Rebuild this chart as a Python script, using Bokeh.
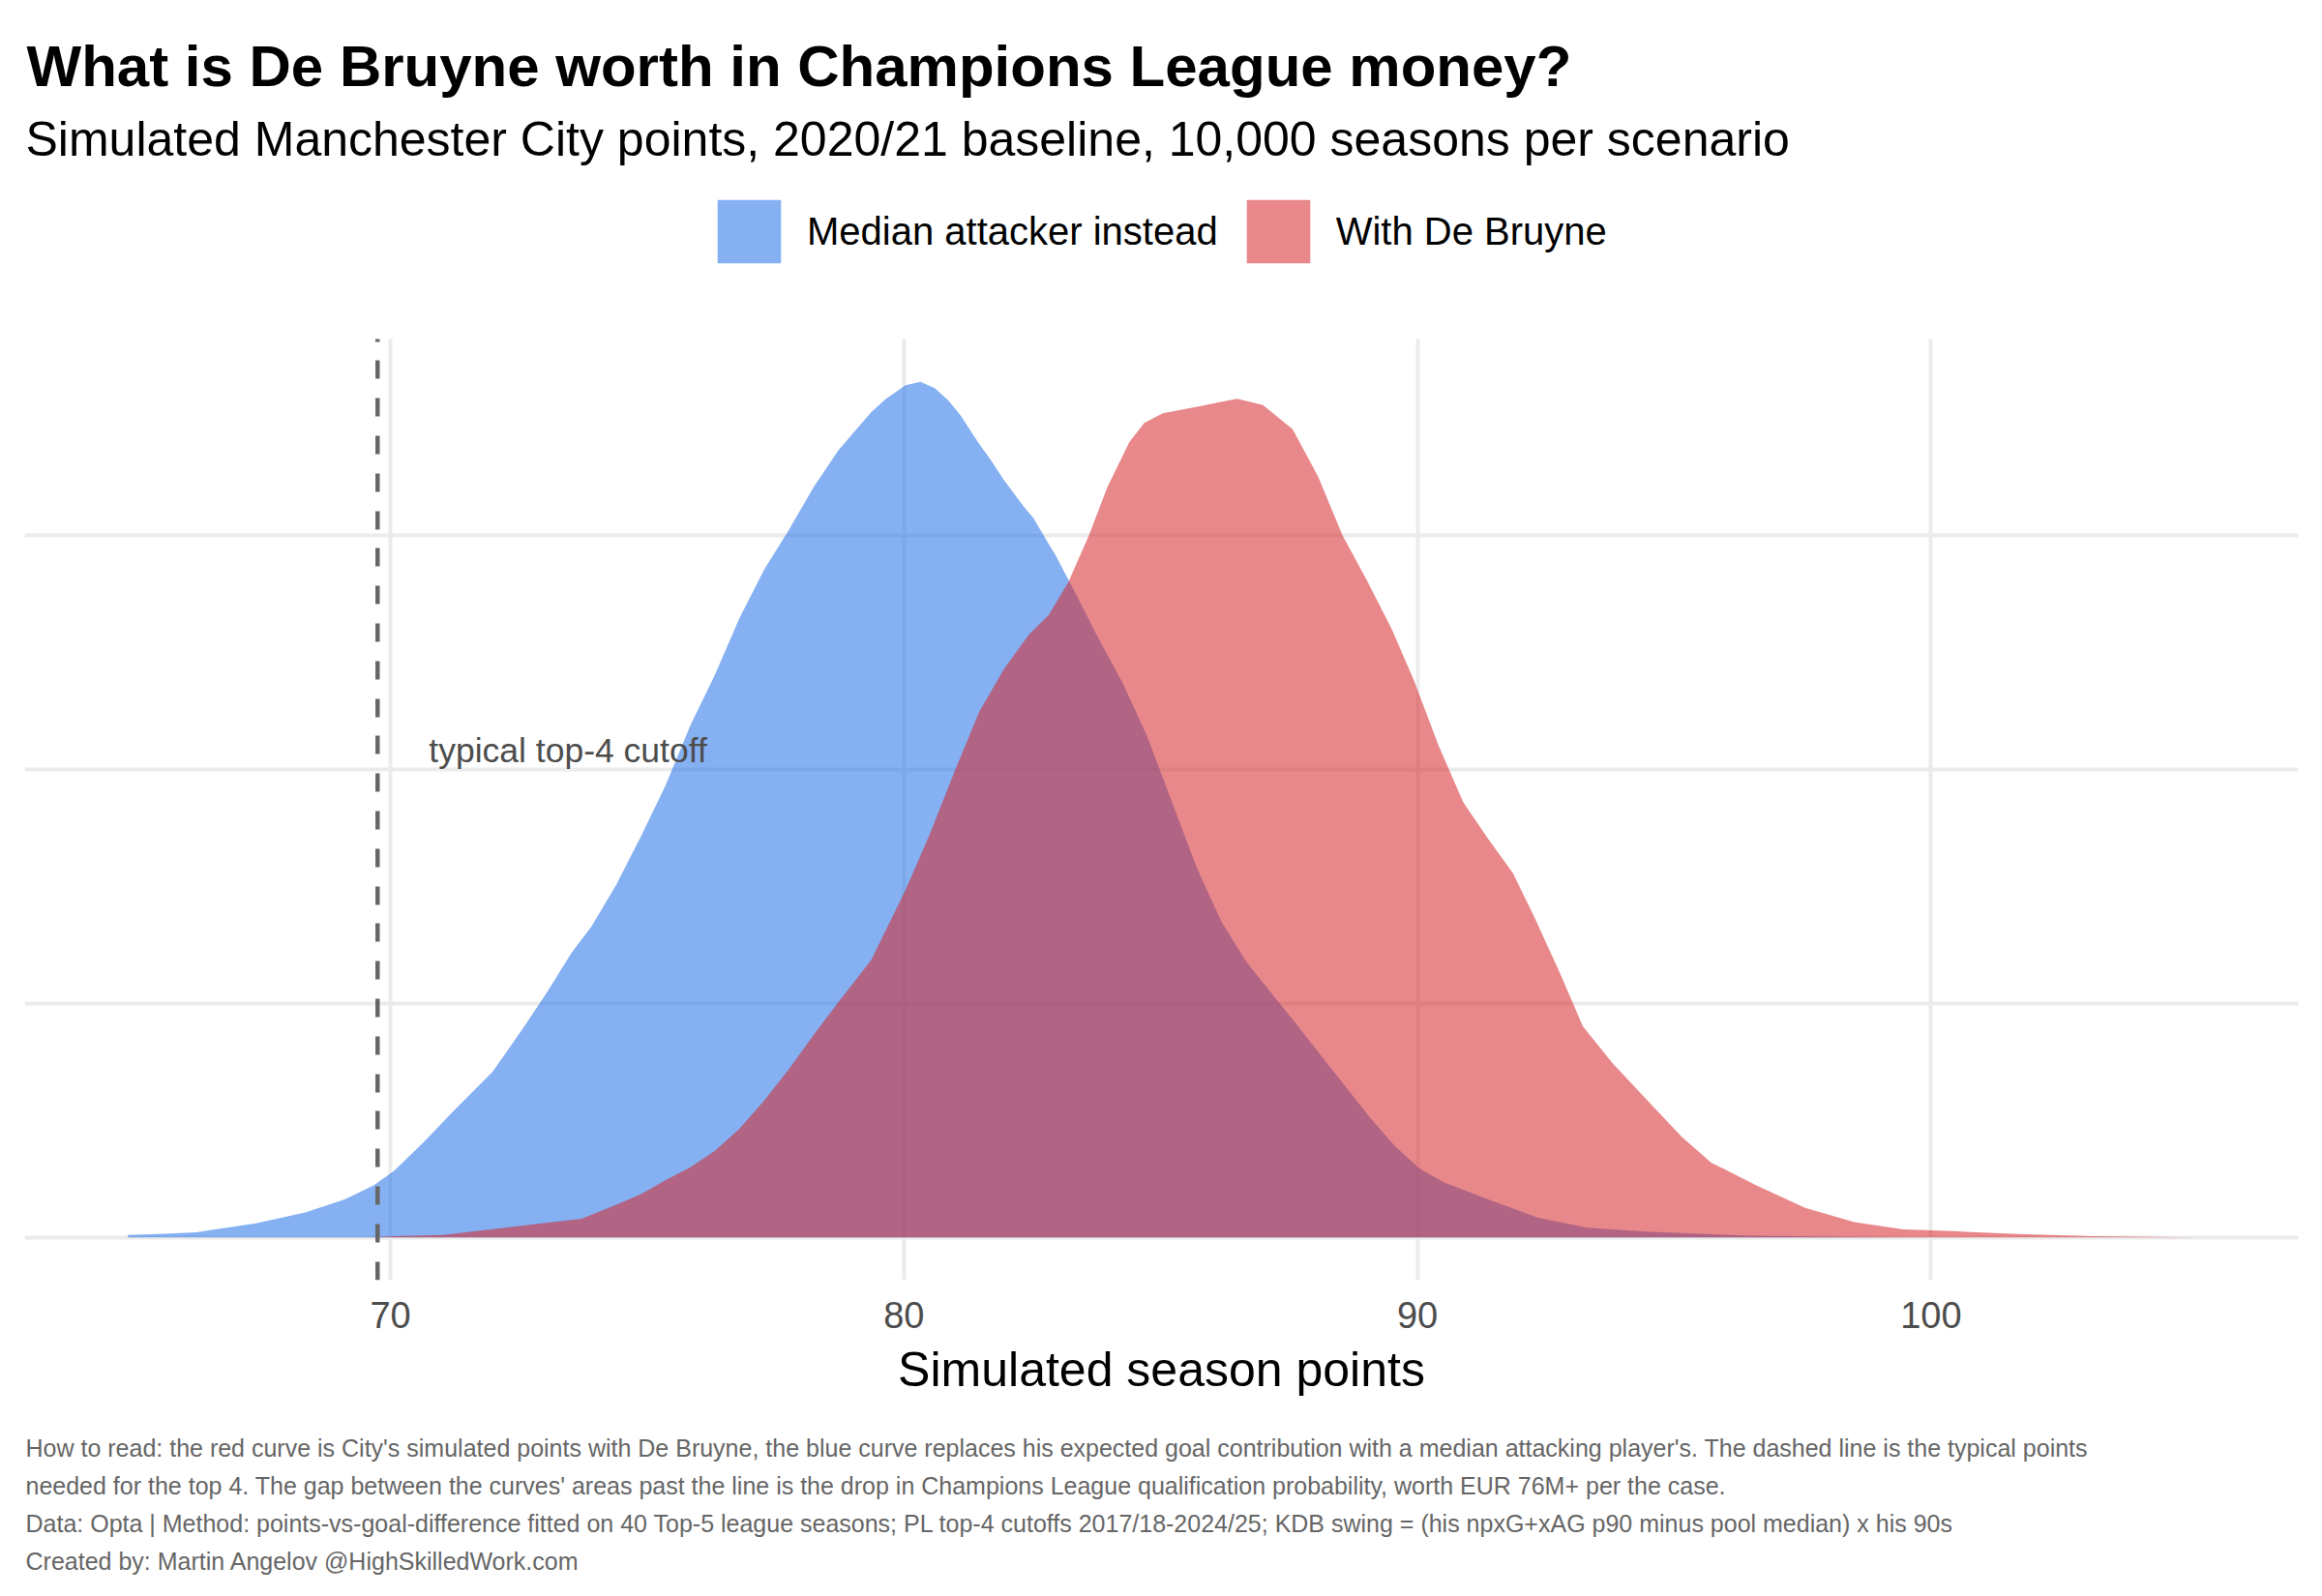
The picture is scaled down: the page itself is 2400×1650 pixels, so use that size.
from bokeh.plotting import figure
from bokeh.models import Range1d, FixedTicker, Label, Legend, LegendItem, Title
from bokeh.embed import file_html
from bokeh.resources import INLINE

FONT = "Liberation Sans"

title_text = "What is De Bruyne worth in Champions League money?"
subtitle_text = "Simulated Manchester City points, 2020/21 baseline, 10,000 seasons per scenario"
x_axis_title = "Simulated season points"
caption_lines = [
    "How to read: the red curve is City's simulated points with De Bruyne, the blue curve replaces his expected goal contribution with a median attacking player's. The dashed line is the typical points",
    "needed for the top 4. The gap between the curves' areas past the line is the drop in Champions League qualification probability, worth EUR 76M+ per the case.",
    "Data: Opta | Method: points-vs-goal-difference fitted on 40 Top-5 league seasons; PL top-4 cutoffs 2017/18-2024/25; KDB swing = (his npxG+xAG p90 minus pool median) x his 90s",
    "Created by: Martin Angelov @HighSkilledWork.com",
]
series_names = ["Median attacker instead", "With De Bruyne"]
x_ticks = [70, 80, 90, 100]
y_grid_values = [0, 0.02, 0.04, 0.06]
cutoff_points = 69.75
cutoff_label = "typical top-4 cutoff"

# density of simulated points, median attacker instead of De Bruyne
median_x = [64.89, 65.5, 66.22, 67.38, 68.34, 69.11, 69.68, 70.07, 70.64, 71.22,
            71.99, 72.57, 73.05, 73.53, 73.91, 74.40, 74.88, 75.36, 75.84, 76.32,
            76.80, 77.28, 77.76, 78.24, 78.72, 79.36, 79.64, 80.03, 80.32, 80.60,
            80.86, 81.10, 81.44, 81.70, 81.94, 82.34, 82.52, 82.82, 82.95, 83.30,
            83.78, 84.26, 84.74, 85.22, 85.70, 86.18, 86.66, 87.14, 87.63, 88.11,
            88.59, 89.07, 89.55, 90.03, 90.51, 91.38, 92.34, 93.30, 94.45, 96.40,
            98.30, 99.50]
median_density = [0.0002, 0.0003, 0.00044, 0.00121, 0.00213, 0.00325, 0.00446, 0.00568, 0.0081, 0.01077,
                  0.01416, 0.0178, 0.02096, 0.02435, 0.02654, 0.03017, 0.0343, 0.03866, 0.04376, 0.04812,
                  0.05297, 0.0571, 0.0605, 0.06413, 0.06728, 0.07054, 0.07165, 0.07286, 0.07315, 0.07262,
                  0.07157, 0.07030, 0.06800, 0.06640, 0.06480, 0.06243, 0.06150, 0.05928, 0.05835, 0.0554,
                  0.05127, 0.0474, 0.04279, 0.03721, 0.03163, 0.02702, 0.02362, 0.02096, 0.01829, 0.01562,
                  0.01295, 0.01028, 0.00786, 0.00592, 0.00471, 0.00325, 0.0017, 0.00082, 0.0005, 0.00015,
                  0.00005, 0.0]

# density of simulated points with De Bruyne
kdb_x = [69.60, 70.07, 71.03, 71.99, 72.95, 73.72, 74.40, 74.88, 75.36, 75.84,
         76.32, 76.80, 77.28, 77.76, 78.24, 78.72, 79.36, 80.03, 80.51, 80.99,
         81.47, 81.95, 82.43, 82.82, 83.20, 83.60, 83.96, 84.39, 84.68, 85.04,
         85.76, 86.49, 86.99, 87.57, 88.07, 88.54, 89.02, 89.50, 89.93, 90.41,
         90.89, 91.38, 91.86, 92.29, 92.77, 93.22, 93.80, 94.47, 95.15, 95.72,
         96.59, 97.55, 98.51, 99.47, 100.43, 101.68, 103.12, 105.14]
kdb_density = [0.0, 0.0001, 0.0002, 0.0007, 0.0012, 0.0016, 0.0028, 0.0037, 0.0049, 0.0060,
               0.0074, 0.0093, 0.0117, 0.0144, 0.0173, 0.0201, 0.0237, 0.02969, 0.03454, 0.03988,
               0.04497, 0.04861, 0.05152, 0.05322, 0.05600, 0.06000, 0.06413, 0.06800, 0.06964, 0.07046,
               0.07107, 0.07170, 0.07116, 0.06910, 0.06500, 0.06001, 0.05613, 0.05200, 0.04764, 0.04206,
               0.03721, 0.03405, 0.03114, 0.02726, 0.02265, 0.01805, 0.01489, 0.01174, 0.00859, 0.0064,
               0.00446, 0.00252, 0.00131, 0.00068, 0.00053, 0.00029, 0.0001, 0.0]

# ggplot-like 5% expansion of the data limits
all_x = median_x + kdb_x
x_lo, x_hi = min(all_x), max(all_x)
x_pad = 0.05 * (x_hi - x_lo)
y_max = max(median_density + kdb_density)
y_pad = 0.05 * y_max
panel_y0, panel_y1 = -y_pad, y_max + y_pad

# layout (pixels): the frame reaches the top of the canvas so the heading
# and legend can live inside it; the data panel is its lower part.
FRAME_W = 2350
FRAME_H = 1323
PANEL_H = 973
frame_y1 = panel_y0 + (panel_y1 - panel_y0) * FRAME_H / PANEL_H

BLUE = "#216FE7"
RED = "#D5272A"
ALPHA = 0.55
GRID = "#EBEBEB"

p = figure(frame_width=FRAME_W, frame_height=FRAME_H, output_backend="svg", toolbar_location=None,
           x_range=Range1d(x_lo - x_pad, x_hi + x_pad),
           y_range=Range1d(panel_y0, frame_y1),
           y_axis_location=None,
           min_border_left=25, min_border_right=9, min_border_top=0, min_border_bottom=311)
p.outline_line_color = None
p.background_fill_color = "white"
p.border_fill_color = "white"

p.ygrid.ticker = FixedTicker(ticks=y_grid_values)
p.ygrid.grid_line_color = GRID
p.ygrid.grid_line_width = 4
p.ygrid.minor_grid_line_color = None

xg = p.xgrid[0]
if "cross_bounds" in xg.properties():
    xg.ticker = FixedTicker(ticks=x_ticks)
    xg.cross_bounds = (panel_y0, panel_y1)
    xg.grid_line_color = GRID
    xg.grid_line_width = 4
    xg.minor_grid_line_color = None
else:
    xg.visible = False
    p.segment(x0=x_ticks, y0=[panel_y0] * len(x_ticks), x1=x_ticks, y1=[panel_y1] * len(x_ticks),
              line_color=GRID, line_width=4, level="underlay")

rb = p.varea(x=median_x, y1=0, y2=median_density, fill_color=BLUE, fill_alpha=ALPHA)
rr = p.varea(x=kdb_x, y1=0, y2=kdb_density, fill_color=RED, fill_alpha=ALPHA)

# dashed cutoff line across the data panel (drawn bottom -> top)
p.segment(x0=[cutoff_points], y0=[panel_y0], x1=[cutoff_points], y1=[panel_y1],
          line_color="#666666", line_width=4.5, line_dash="19 20 19 20 19 20 19 20 19 19")
p.add_layout(Label(x=cutoff_points + 1, y=0.04, text=cutoff_label, text_align="left",
                   text_baseline="bottom", text_font=FONT, text_font_size="35.5px",
                   text_color="#4D4D4D"))

ax = p.xaxis[0]
ax.ticker = FixedTicker(ticks=x_ticks)
ax.axis_line_color = None
ax.major_tick_line_color = None
ax.minor_tick_line_color = None
ax.major_tick_out = 0
ax.major_tick_in = 0
ax.minor_tick_out = 0
ax.minor_tick_in = 0
ax.major_label_text_font = FONT
ax.major_label_text_font_size = "38px"
ax.major_label_text_color = "#4D4D4D"
ax.major_label_standoff = 22
ax.axis_label = x_axis_title
ax.axis_label_text_font = FONT
ax.axis_label_text_font_size = "50px"
ax.axis_label_text_font_style = "normal"
ax.axis_label_text_color = "black"
ax.axis_label_standoff = 12

# area legend keys are drawn inset by 10% on each side -> 82 px key gives a ~66 px swatch
legend = Legend(items=[LegendItem(label=series_names[0], renderers=[rb]),
                       LegendItem(label=series_names[1], renderers=[rr])],
                orientation="horizontal", location=(708, 1043),
                glyph_width=82, glyph_height=82, label_height=82,
                label_standoff=19, spacing=21, padding=0, margin=0,
                border_line_color=None, background_fill_alpha=0,
                label_text_font=FONT, label_text_font_size="40px", label_text_color="black")
p.add_layout(legend, "center")

# heading: screen units from the frame's bottom-left corner
p.add_layout(Label(x=2, y=FRAME_H - 68, x_units="screen", y_units="screen", text=title_text,
                   text_font=FONT, text_font_style="bold", text_font_size="60px",
                   text_color="black", text_baseline="alphabetic"))
p.add_layout(Label(x=1, y=FRAME_H - 143, x_units="screen", y_units="screen", text=subtitle_text,
                   text_font=FONT, text_font_size="50px",
                   text_color="black", text_baseline="alphabetic"))

# blank spacer between the axis title and the caption block
p.add_layout(Title(text=" ", align="left", standoff=6, text_font=FONT,
                   text_font_size="20px"), "below")
# caption lines stacked below the x axis
for line in caption_lines:
    p.add_layout(Title(text=line, align="left", offset=1, standoff=9,
                       text_font=FONT, text_font_size="25px", text_font_style="normal",
                       text_color="#666666"), "below")

open("out.html", "w").write(file_html(p, INLINE))
